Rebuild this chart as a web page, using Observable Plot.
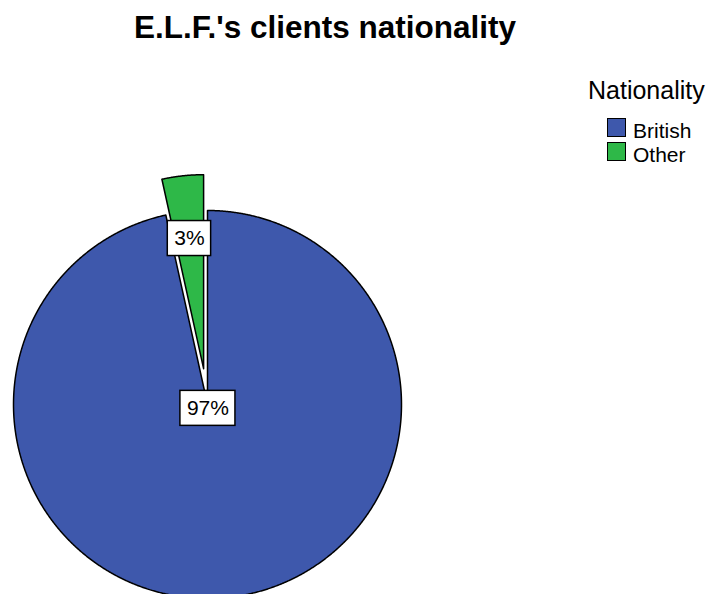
<!DOCTYPE html>
<html><head><meta charset="utf-8">
<script src="https://cdn.jsdelivr.net/npm/d3@7"></script>
<script src="https://cdn.jsdelivr.net/npm/@observablehq/plot@0.6"></script>
<style>
body{margin:0;background:#fff;font-family:"Liberation Sans",Arial,sans-serif;}
#wrap{position:relative;width:712px;height:594px;overflow:hidden;background:#fff;}
#title{position:absolute;left:0;top:11.5px;width:650px;text-align:center;font-weight:bold;font-size:31.5px;line-height:31.5px;color:#000;}
#chart{position:absolute;left:0;top:60px;}
#legend{position:absolute;left:588px;top:78px;color:#000;}
#legend .lt{font-size:25px;line-height:25px;white-space:nowrap;}
#legend .item{position:relative;height:24px;}
#legend .sw{position:absolute;left:19px;top:0;width:17px;height:17px;border:1.5px solid #000;}
#legend .lab{position:absolute;left:45px;top:3px;font-size:21px;line-height:20px;white-space:nowrap;}
</style></head><body>
<div id="wrap"><div id="title"></div><div id="chart"></div><div id="legend"></div></div>
<script>
// ---- data ----
const chartTitle = "E.L.F.'s clients nationality";
const legendTitle = "Nationality";
const categories = ["British", "Other"];
const counts = [28, 1];
const colors = ["#3E58AC", "#2EB848"];
const exploded = [false, true];

// ---- layout ----
const W = 712, H = 534, R = 194, cx = 207, cy = 344;
const explodePx = 36;
const labelRadius = [0.02, 0.675];
const fontStack = "'Liberation Sans', Arial, sans-serif";

document.getElementById("title").textContent = chartTitle;

const total = d3.sum(counts);
const arcs = d3.pie().sort(null).value(d => d)(counts);

const rows = [];
const labels = [];
const ctx = document.createElement("canvas").getContext("2d");
ctx.font = "21px " + fontStack;
arcs.forEach((a, i) => {
  const mid = (a.startAngle + a.endAngle) / 2;
  const off = exploded[i] ? explodePx / R : 0;
  const ox = off * Math.sin(mid), oy = off * Math.cos(mid);
  const slice = categories[i];
  rows.push({slice, x: ox, y: oy});
  const step = Math.PI / 720;
  const n = Math.max(2, Math.ceil((a.endAngle - a.startAngle) / step));
  for (let k = 0; k <= n; k++) {
    const t = a.startAngle + (a.endAngle - a.startAngle) * k / n;
    rows.push({slice, x: ox + Math.sin(t), y: oy + Math.cos(t)});
  }
  rows.push({slice, x: ox, y: oy});
  const text = Math.round(counts[i] / total * 100) + "%";
  const tw = ctx.measureText(text).width;
  const bw = (tw + 13) / R, bh = 35 / R;
  const lx = ox + labelRadius[i] * Math.sin(mid), ly = oy + labelRadius[i] * Math.cos(mid);
  labels.push({text, x: lx, y: ly, x1: lx - bw / 2, x2: lx + bw / 2, y1: ly - bh / 2, y2: ly + bh / 2});
});

const plot = Plot.plot({
  width: W, height: H, margin: 0,
  style: {fontFamily: fontStack, background: "white"},
  x: {domain: [-cx / R, (W - cx) / R], axis: null},
  y: {domain: [-(H - cy) / R, cy / R], axis: null},
  color: {domain: categories, range: colors},
  marks: [
    Plot.line(rows, {x: "x", y: "y", z: "slice", fill: "slice", stroke: "black", strokeWidth: 1.5, curve: "linear"}),
    Plot.rect(labels, {x1: "x1", x2: "x2", y1: "y1", y2: "y2", fill: "white", stroke: "black", strokeWidth: 1.5}),
    Plot.text(labels, {x: "x", y: "y", text: "text", fontSize: 21, fill: "black", fontFamily: fontStack})
  ]
});
document.getElementById("chart").appendChild(plot);

// legend
const lg = document.getElementById("legend");
const lt = document.createElement("div");
lt.className = "lt"; lt.textContent = legendTitle;
lg.appendChild(lt);
const items = document.createElement("div");
items.style.marginTop = "15px";
categories.forEach((c, i) => {
  const it = document.createElement("div"); it.className = "item";
  const sw = document.createElement("div"); sw.className = "sw"; sw.style.background = colors[i];
  const lb = document.createElement("div"); lb.className = "lab"; lb.textContent = c;
  it.appendChild(sw); it.appendChild(lb); items.appendChild(it);
});
lg.appendChild(items);
</script>
</body></html>
